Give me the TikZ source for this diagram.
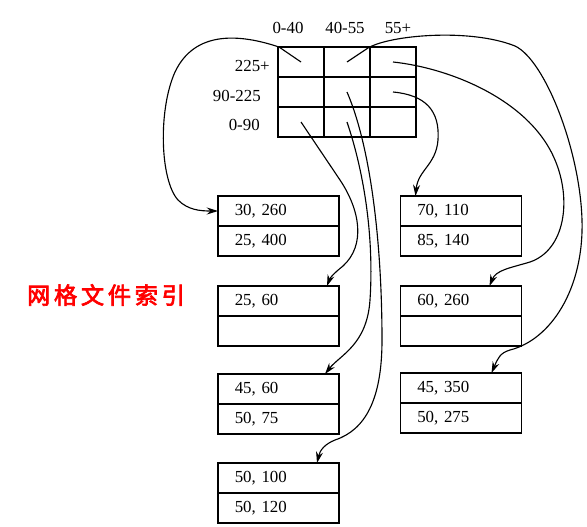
\documentclass[tikz,border=0pt]{standalone}
\usepackage{fontspec}
\setmainfont{Liberation Serif}
\newfontfamily\cjk[FakeBold=3,LetterSpace=16]{Noto Sans CJK SC}
\usetikzlibrary{arrows.meta,positioning}

\tikzset{
  cell/.style={draw, line width=1.2pt, minimum width=1.15cm, minimum height=0.75cm, outer sep=0pt, inner sep=0pt},
  bucket/.style={draw, line width=1.2pt, minimum height=0.75cm, text width=2.185cm, inner xsep=0.42cm, inner ysep=0pt, align=left, outer sep=0pt, font=\fontsize{12}{14}\selectfont},
  lbl/.style={inner sep=0pt, font=\fontsize{12}{14}\selectfont},
  link/.style={line width=0.8pt, -{Stealth[length=8pt,width=5pt]}},
}

\begin{document}
\begin{tikzpicture}[x=0.025cm, y=-0.025cm]
    \useasboundingbox (0,0) rectangle (587,527);

    % Grid directory
    \foreach \c in {1,2,3}
      \foreach \r in {1,2,3}
        \node[cell] (g-\c-\r) at ({255+46*\c},{32+30*\r}) {};

    % Scales
    \node[lbl] (age1) at (288,28) {0-40};
    \node[lbl] (age2) at (345,28) {40-55};
    \node[lbl] (age3) at (398,28) {55+};
    \node[lbl, anchor=east] (sal1) at (270,66) {225+};
    \node[lbl, anchor=east] (sal2) at (261,96) {90-225};
    \node[lbl, anchor=east] (sal3) at (260,125) {0-90};

    % Buckets, left column
    \node[bucket] (b1) at (278.5,211) {30, 260};
    \node[bucket, below=0pt of b1] (b1x) {25, 400};
    \node[bucket] (b2) at (278.5,301) {25, 60};
    \node[bucket, below=0pt of b2] (b2x) {};
    \node[bucket] (b3) at (278.5,389) {45, 60};
    \node[bucket, below=0pt of b3] (b3x) {50, 75};
    \node[bucket] (b7) at (278.5,478) {50, 100};
    \node[bucket, below=0pt of b7] (b7x) {50, 120};

    % Buckets, right column
    \node[bucket] (b4) at (461,211) {70, 110};
    \node[bucket, below=0pt of b4] (b4x) {85, 140};
    \node[bucket] (b5) at (461,301) {60, 260};
    \node[bucket, below=0pt of b5] (b5x) {};
    \node[bucket] (b6) at (461,388) {45, 350};
    \node[bucket, below=0pt of b6] (b6x) {50, 275};

    % Title
    \node[text=red, font=\cjk\fontsize{16.5}{18}\selectfont] (title) at (106,295) {网格文件索引};

    % Pointers from the cells
    \draw[link] (g-1-1.center) -- (279,47) .. controls (240,34) and (195,30) .. (175,72)
      .. controls (158,110) and (160,180) .. (178,200) .. controls (188,210) and (200,211) .. (b1.west);
    \draw[link] (g-1-3.center) -- (340,180) .. controls (360,210) and (366,245) .. (343,266)
      .. controls (333,274) and (330,278) .. ([xshift=-0.3cm]b2.north east);
    \draw[link] (g-2-3.center) .. controls (365,175) and (374,240) .. (370,300)
      .. controls (367,345) and (340,355) .. ([xshift=-0.35cm]b3.north east);
    \draw[link] (g-2-2.center) .. controls (372,150) and (382,250) .. (382,340)
      .. controls (382,400) and (365,430) .. (335,440) .. controls (325,444) and (320,450) .. ([xshift=-0.55cm]b7.north east);
    \draw[link] (g-3-2.center) .. controls (425,95) and (440,110) .. (438,140)
      .. controls (436,165) and (418,170) .. ([xshift=0.375cm]b4.north west);
    \draw[link] (g-3-1.center) .. controls (450,68) and (530,100) .. (555,160)
      .. controls (572,200) and (565,250) .. (530,262) .. controls (510,268) and (496,270) .. ([xshift=-0.8cm]b5.north east);
    \draw[link] (g-2-1.center) -- (368,48) .. controls (390,35) and (470,28) .. (515,46)
      .. controls (545,60) and (580,150) .. (582,220) .. controls (584,290) and (550,340) .. (510,350)
      .. controls (500,353) and (498,358) .. ([xshift=-0.75cm]b6.north east);
\end{tikzpicture}
\end{document}
